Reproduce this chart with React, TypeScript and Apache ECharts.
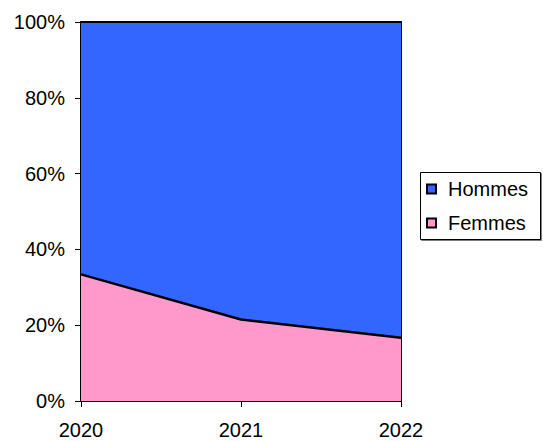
import React, { useEffect, useRef } from "react";
import * as echarts from "echarts";

const years = ["2020", "2021", "2022"];
const femmes = [33.4, 21.5, 16.7];
const hommes = [66.6, 78.5, 83.3];
const yTicks = [0, 20, 40, 60, 80, 100];

export default function App() {
  const ref = useRef<HTMLDivElement>(null);
  useEffect(() => {
    if (!ref.current) return;
    const chart = echarts.init(ref.current, null, { renderer: "svg" });
    const font = "'Liberation Sans', Arial, sans-serif";
    chart.setOption({
      animation: false,
      textStyle: { fontFamily: font },
      grid: {
        left: 81,
        right: 142,
        top: 22,
        bottom: 40,
        show: true,
        borderColor: "#000",
        borderWidth: 2,
        backgroundColor: "transparent",
      },
      xAxis: {
        type: "category",
        data: years,
        boundaryGap: false,
        axisLine: { lineStyle: { color: "#000", width: 1 } },
        axisTick: { show: true, length: 6, lineStyle: { color: "#000" } },
        axisLabel: { color: "#000", fontSize: 20, fontFamily: font, margin: 19 },
        splitLine: { show: false },
      },
      yAxis: {
        type: "value",
        min: yTicks[0],
        max: yTicks[yTicks.length - 1],
        interval: 20,
        axisLine: { show: true, lineStyle: { color: "#000", width: 1 } },
        axisTick: { show: true, length: 6, lineStyle: { color: "#000" } },
        axisLabel: { color: "#000", fontSize: 20, fontFamily: font, formatter: "{value}%", margin: 16 },
        splitLine: { show: false },
      },
      legend: {
        orient: "vertical",
        left: 421,
        top: 174,
        padding: [4, 6, 4, 5],
        data: ["Hommes", "Femmes"],
        itemWidth: 9,
        itemHeight: 9,
        itemGap: 12,
        icon: "rect",
        textStyle: { color: "#000", fontSize: 20, fontFamily: font, lineHeight: 22, padding: [0, 0, 0, 7] },
        selectedMode: false,
      },
      graphic: [
        {
          type: "rect",
          shape: { x: 420.5, y: 172.5, width: 120, height: 67 },
          style: { fill: "#fff", stroke: "#000", lineWidth: 1, shadowColor: "rgba(0,0,0,0.5)", shadowOffsetX: 1, shadowOffsetY: 1, shadowBlur: 1 },
          z: -1,
          silent: true,
        },
      ],
      series: [
        {
          name: "Femmes",
          type: "line",
          stack: "total",
          data: femmes,
          symbol: "none",
          lineStyle: { color: "#000", width: 2.5 },
          itemStyle: { color: "#FF99CC", borderColor: "#000", borderWidth: 1 },
          areaStyle: { color: "#FF99CC", opacity: 1 },
          z: 3,
        },
        {
          name: "Hommes",
          type: "line",
          stack: "total",
          data: hommes,
          symbol: "none",
          lineStyle: { color: "#000", width: 2 },
          itemStyle: { color: "#3366FF", borderColor: "#000", borderWidth: 1 },
          areaStyle: { color: "#3366FF", opacity: 1 },
          z: 2,
        },
      ],
    });
    return () => chart.dispose();
  }, []);
  return <div ref={ref} style={{ width: 543, height: 441, position: "absolute", left: 0, top: 0 }} />;
}
